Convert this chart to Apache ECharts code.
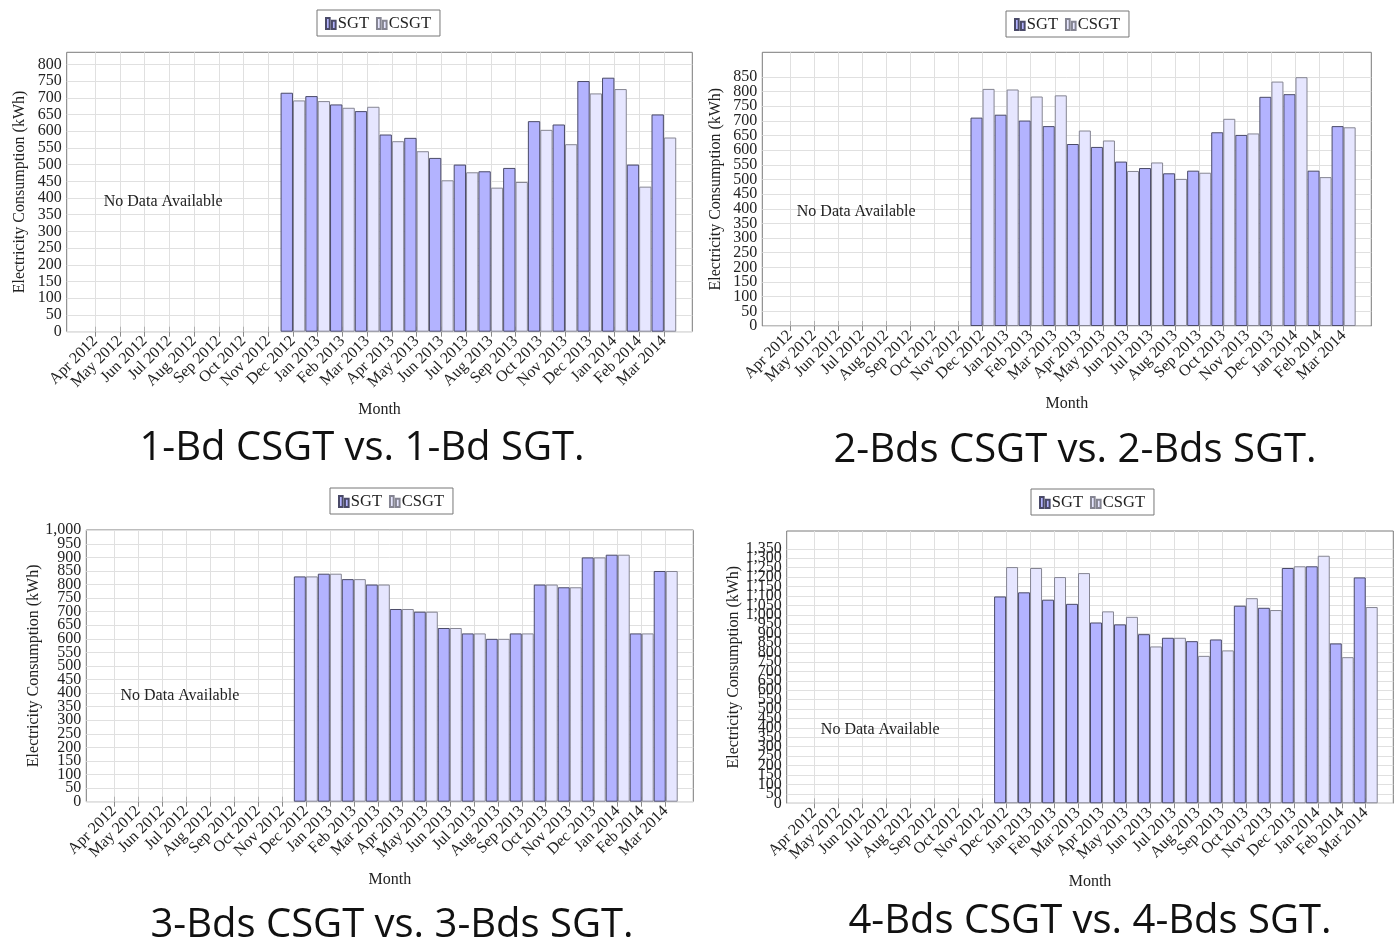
<!DOCTYPE html>
<html>
<head>
<meta charset="utf-8">
<script src="https://cdn.jsdelivr.net/npm/echarts@6/dist/echarts.min.js"></script>
<style>
html,body{margin:0;padding:0;background:#fff;}
#c{width:1400px;height:945px;}
</style>
</head>
<body>
<div id="c"></div>
<script>
// ---------- data ----------
const months = ['Apr 2012','May 2012','Jun 2012','Jul 2012','Aug 2012','Sep 2012','Oct 2012','Nov 2012',
  'Dec 2012','Jan 2013','Feb 2013','Mar 2013','Apr 2013','May 2013','Jun 2013','Jul 2013','Aug 2013',
  'Sep 2013','Oct 2013','Nov 2013','Dec 2013','Jan 2014','Feb 2014','Mar 2014'];
const dataMonths = ['Dec 2012','Jan 2013','Feb 2013','Mar 2013','Apr 2013','May 2013','Jun 2013','Jul 2013',
  'Aug 2013','Sep 2013','Oct 2013','Nov 2013','Dec 2013','Jan 2014','Feb 2014','Mar 2014'];

const sgt1  = [715,705,680,660,590,580,520,500,480,490,630,620,750,760,500,650];
const csgt1 = [692,690,670,673,570,540,453,477,431,448,604,561,713,726,434,581];
const sgt2  = [711,721,701,682,621,611,561,539,521,530,661,652,782,791,530,682];
const csgt2 = [809,807,783,787,667,633,529,558,502,523,707,657,834,849,508,678];
const sgt3  = [830,840,820,800,710,700,640,620,600,620,800,790,900,910,620,850];
const csgt3 = [830,840,820,800,710,700,640,620,600,620,800,790,900,910,620,850];
const sgt4  = [1097,1119,1080,1058,959,949,897,878,860,869,1048,1037,1248,1257,848,1198];
const csgt4 = [1253,1248,1200,1221,1018,989,832,878,782,811,1088,1025,1257,1313,775,1041];

// y tick labels: 0 .. top, every 50
const yTickStep = 50;
const yTickTop = [800, 850, 1000, 1350];

const seriesNames = ['SGT','CSGT'];
const captions = ['1-Bd CSGT vs. 1-Bd SGT.','2-Bds CSGT vs. 2-Bds SGT.','3-Bds CSGT vs. 3-Bds SGT.','4-Bds CSGT vs. 4-Bds SGT.'];
const yTitle = 'Electricity Consumption (kWh)';
const xTitle = 'Month';
const noteText = 'No Data Available';
const noteMonth = 'Jul 2012';
const noteValue = 390;

// ---------- layout / style ----------
const SERIF = '"Liberation Serif","Times New Roman",serif';
const GRID_C = '#e0e0e0';
const panels = [
  {sgt:sgt1, csgt:csgt1, grid:{left:66.7, top:52.3, width:625.6, height:279.4}, legend:{left:317, top:10},  cap:[362,449]},
  {sgt:sgt2, csgt:csgt2, grid:{left:762.3,top:52.3, width:609,   height:273.7}, legend:{left:1006, top:11}, cap:[1075,451]},
  {sgt:sgt3, csgt:csgt3, grid:{left:86.3, top:530,  width:607,   height:271.7}, legend:{left:330, top:488}, cap:[392,926]},
  {sgt:sgt4, csgt:csgt4, grid:{left:786.7,top:531,  width:606.6, height:272.3}, legend:{left:1031, top:489},cap:[1090,922]}
];
const tickIdx = months.map((m,i)=>i);
const xMin = -0.05*(months.length-1), xMax = (months.length-1)*1.05;
const legendIcon = 'path://M0,0H4V12H0Z M6.5,3H10.5V12H6.5Z';
const labelStyle = {fontFamily:SERIF, fontSize:16, color:'#222'};

const grid=[], xAxis=[], yAxis=[], series=[], legend=[], graphic=[];
const topAxes=[], zeroAxes=[];
panels.forEach((p,i)=>{
  grid.push(Object.assign({show:true, borderColor:'#7a7a7a', borderWidth:1, containLabel:false}, p.grid));
  xAxis.push({
    type:'value', gridIndex:i, min:xMin, max:xMax,
    axisLine:{show:false},
    axisTick:{show:true, customValues:tickIdx, length:5, lineStyle:{color:'#8a8a8a'}},
    axisLabel:Object.assign({customValues:tickIdx, rotate:45, margin:7, formatter:v=>months[Math.round(v)]||''}, labelStyle),
    splitLine:{show:true, lineStyle:{color:GRID_C, width:1}},
    name:xTitle, nameLocation:'middle', nameGap:70, nameTextStyle:labelStyle
  });
  topAxes.push({
    type:'value', gridIndex:i, position:'top', min:xMin, max:xMax,
    axisLine:{show:false},
    axisTick:{show:true, customValues:tickIdx, length:5, lineStyle:{color:'#b0b0b0'}},
    axisLabel:{show:false, customValues:tickIdx}, splitLine:{show:false}
  });
  const maxVal = Math.max(...p.sgt, ...p.csgt)*1.1;
  const top = yTickTop[i];
  // one colour per split line (0, 50, 100, ... , max); lines above the last labelled tick are hidden
  const lineColors = [];
  for (let v=0; v<=maxVal+yTickStep; v+=yTickStep) lineColors.push(v<=top ? GRID_C : 'rgba(0,0,0,0)');
  yAxis.push({
    type:'value', gridIndex:i, min:0, max:maxVal, interval:yTickStep,
    axisLine:{show:false},
    axisTick:{show:false},
    axisLabel:Object.assign({showMinLabel:false, showMaxLabel:true, margin:5,
      formatter:v=> (Math.abs(v%yTickStep)<1e-6 && v<=top ? v.toLocaleString('en-US') : '')}, labelStyle),
    splitLine:{show:true, lineStyle:{color:lineColors, width:1}},
    name:yTitle, nameLocation:'middle', nameGap:39, nameRotate:90, nameTextStyle:labelStyle
  });
  // companion axis that only carries the "0" label (avoids the automatic min-label overlap removal)
  zeroAxes.push({
    type:'value', gridIndex:i, position:'left', offset:0, min:0, max:maxVal, interval:yTickStep,
    axisLine:{show:false}, axisTick:{show:false}, splitLine:{show:false},
    axisLabel:Object.assign({showMinLabel:true, showMaxLabel:false, margin:5,
      formatter:v=> (v===0 ? '0' : '')}, labelStyle)
  });
  const toPts = arr => arr.map((v,k)=>[months.indexOf(dataMonths[k]), v]);
  series.push({
    type:'bar', name:seriesNames[0], xAxisIndex:i, yAxisIndex:i, data:toPts(p.sgt),
    barGap:'0%', barCategoryGap:'0%',
    itemStyle:{color:'#b3b3ff', borderColor:'#4a4a68', borderWidth:1},
    markPoint:{silent:true, symbol:'circle', symbolSize:0,
      label:Object.assign({show:true, position:'inside', formatter:noteText}, labelStyle),
      data:[{coord:[months.indexOf(noteMonth), noteValue]}]}
  });
  series.push({
    type:'bar', name:seriesNames[1], xAxisIndex:i, yAxisIndex:i, data:toPts(p.csgt),
    barGap:'0%', barCategoryGap:'0%',
    itemStyle:{color:'#e6e6ff', borderColor:'#858592', borderWidth:1}
  });
  legend.push({
    left:p.legend.left, top:p.legend.top, orient:'horizontal', data:seriesNames,
    icon:legendIcon, itemWidth:10, itemHeight:11, itemGap:7, selectedMode:false,
    borderColor:'#777', borderWidth:1, padding:[5,9,4,8],
    textStyle:{fontFamily:SERIF, fontSize:16.5, color:'#222', padding:[0,0,0,-3]}
  });
  graphic.push({
    type:'text', x:p.cap[0], y:p.cap[1], silent:true,
    style:{text:captions[i], fill:'#111', font:'40px "Open Sans"', fontFamily:'"Open Sans"', fontSize:40,
      align:'center', verticalAlign:'middle', textAlign:'center', textVerticalAlign:'middle'}
  });
});

const chart = echarts.init(document.getElementById('c'), null, {renderer:'canvas'});
chart.setOption({
  animation:false,
  backgroundColor:'#fff',
  grid, xAxis: xAxis.concat(topAxes), yAxis: yAxis.concat(zeroAxes), series, legend, graphic
});
</script>
</body>
</html>
